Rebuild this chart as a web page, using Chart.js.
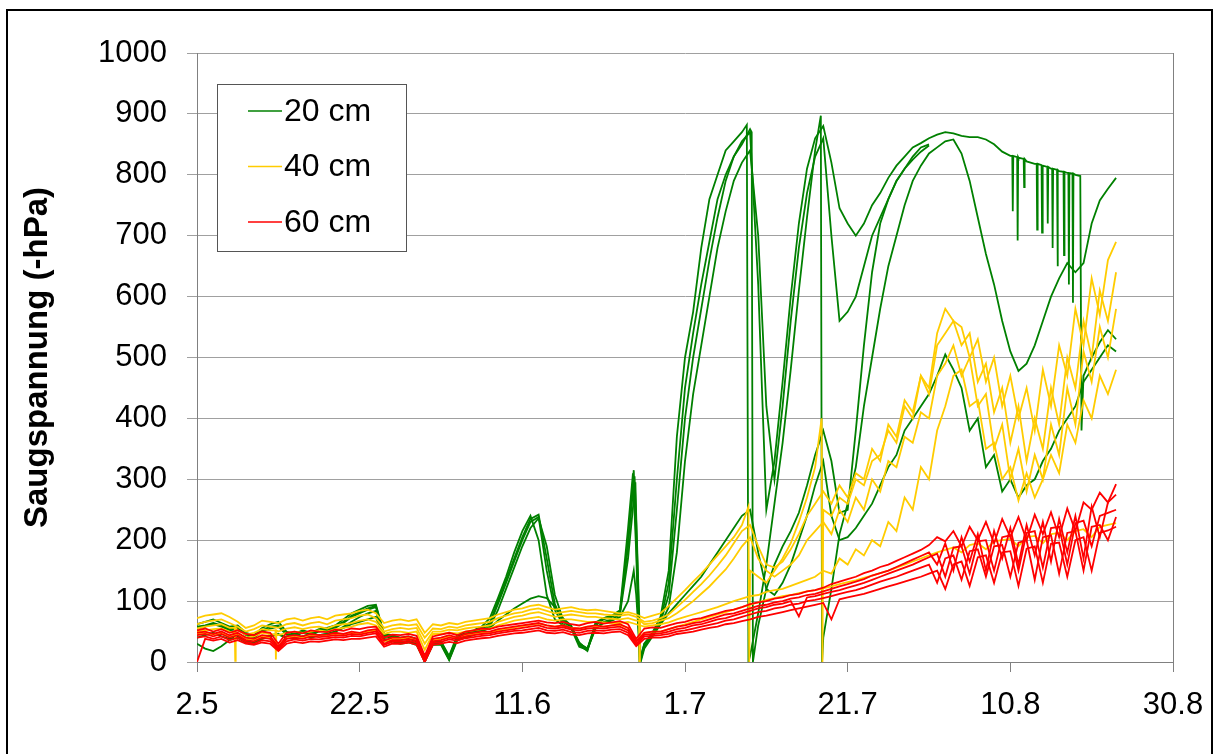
<!DOCTYPE html>
<html>
<head>
<meta charset="utf-8">
<script src="https://cdn.jsdelivr.net/npm/chart.js@4/dist/chart.umd.min.js"></script>
<style>
  body { margin: 0; background: #fff; }
  #wrap { width: 1219px; height: 754px; }
</style>
</head>
<body>
<div id="wrap"><canvas id="chart" width="1219" height="754"></canvas></div>
<script>
// tick labels for x = 0, 20, 40 ... 120 (days since 2.5.)
const dateLabels = ['2.5', '22.5', '11.6', '1.7', '21.7', '10.8', '30.8'];
const depthNames = ['20 cm', '40 cm', '60 cm'];
const depthColors = ['#008000', '#ffcc00', '#ff0000'];

// daily values (index = day), extra points [day, value], spikes [day, base, low]
// --- 20 cm ---
const g1 = [62,66,70,64,58,60,48,44,56,62, 66,50,46,52,48,54,56,60,70,80,
  86,92,94,46,44,40,42,38,4,36, 34,10,44,48,52,58,72,105,140,180,
  215,240,200,110,70,60,55,25,20,65, 72,76,85,220,180,30,48,75,150,370,
  500,575,680,760,800,840,855,870,10,80, 160,260,360,480,610,730,840,40,120,210,
  260,320,420,500,580,650,700,750,790,815, 835,845,855,858,835,790,730,670,620,560,
  510,478,490,520,560,600,630,655,640,655, 720,758,777,795];
const g1Extra = [[53.6,310],[54.4,0],[67.6,882],[67.8,0],[76.7,897],[76.85,0]];

const g2 = [55,58,62,58,52,54,44,40,50,55, 58,45,42,48,44,50,52,56,64,74,
  80,86,90,42,40,36,38,34,2,33, 32,6,40,44,48,54,62,95,130,165,
  200,230,238,150,85,62,56,30,22,60, 70,74,80,200,230,28,45,68,130,300,
  450,540,620,690,760,800,830,850,875,60, 120,160,190,215,245,290,340,380,330,245,
  250,380,520,640,720,760,790,810,825,838, 848];
const g2Extra = [[53.8,305],[54.5,0],[68.2,870],[68.35,0]];

const g3 = [58,60,64,60,54,56,46,42,52,58, 60,47,44,50,46,52,54,58,66,76,
  82,88,92,44,42,38,40,36,3,34, 33,8,42,46,50,56,64,100,135,170,
  205,235,242,170,95,66,58,28,18,62, 72,75,82,190,200,25,46,66,110,250,
  400,500,580,660,730,790,830,855,870,620, 250,330,460,600,720,810,860,880,820,745,
  720,700,720,750,770,795,815,830,845,852, 860,866,870,868,864,862,862,858,850,838,
  831,828,822,818,815,810,806,803,800,470, 500,525,545,530];
const g3Extra = [[53.7,315],[54.45,0],[108.6,798],[108.75,380]];
const g3Spikes = [[100.3,831,740],[100.9,829,692],[101.7,826,780],[103.3,818,710],[103.9,816,705],
  [104.6,813,720],[105.2,810,680],[105.8,808,650],[106.6,805,668],[107.2,803,620],[107.7,802,590]];

const g4 = [30,22,18,26,36,40,32,30,38,42, 45,40,38,42,40,44,46,50,58,66,
  74,80,84,38,36,32,34,30,0,30, 30,4,38,42,46,52,58,85,120,155,
  190,220,236,190,110,70,58,32,20,55, 66,70,78,170,240,22,42,62,90,180,
  330,440,520,600,680,740,790,820,840,700, 420,300,420,560,680,770,830,860,700,560,
  575,600,650,700,730,760,790,810,830,845, 850];
const g4Extra = [[53.9,295],[54.55,0]];

const g5 = [40,44,48,42,38,42,34,32,40,44, 46,40,38,42,40,44,46,50,56,62,
  66,70,74,36,34,30,32,28,1,28, 28,3,36,40,44,50,56,68,78,88,
  96,104,108,105,90,72,60,30,22,55, 64,68,74,100,110,30,45,62,80,95,
  110,125,140,160,180,200,220,240,250,180, 120,110,130,160,200,240,290,330,240,200,
  205,220,240,260,290,320,340,380,400,420, 440,470,505,480,450,380,400,320,340,280,
  300,270,290,300,330,350,380,400,420,460, 480,500,520,510];
const g5Extra = [[53.7,150],[54.5,5]];

// --- 40 cm ---
const y1 = [72,76,78,80,74,66,56,60,68,66, 64,70,72,68,72,74,70,76,78,80,
  84,86,80,64,68,70,67,70,48,62, 60,64,62,66,68,70,72,78,82,86,
  88,92,94,90,86,88,90,87,85,86, 84,82,80,82,78,72,76,80,92,105,
  118,132,145,160,175,190,205,225,150,140, 130,150,170,195,230,270,320,250,240,270,
  260,300,290,330,340,380,360,420,400,470, 450,540,580,560,550,500,530,460,500,420,
  470,400,450,380,480,420,520,470,580,520, 630,570,660,690];
const y1Extra = [[67.8,255],[67.9,0],[76.8,400],[76.9,0]];

const y2 = [62,66,68,70,64,58,50,54,60,58, 56,62,64,60,64,66,62,68,70,72,
  76,78,72,56,60,62,60,62,40,55, 54,58,56,60,62,64,66,72,76,80,
  82,86,88,84,80,82,84,82,80,80, 78,77,76,78,74,66,68,72,78,90,
  102,115,128,142,158,175,195,215,225,190, 160,155,165,185,210,240,260,280,260,290,
  270,310,300,350,330,390,370,430,410,470, 440,520,540,560,520,540,460,490,410,450,
  360,420,330,400,350,450,390,500,450,560, 500,610,560,640];

const y3 = [55,58,60,62,56,52,45,48,54,52, 50,55,57,54,57,58,55,60,62,64,
  68,70,66,50,54,56,54,56,30,50, 50,53,52,55,57,58,60,66,70,74,
  76,80,82,78,74,76,78,76,74,74, 72,71,70,72,68,62,64,68,72,80,
  90,100,112,124,138,152,170,190,205,170, 150,140,150,160,175,200,215,230,210,250,
  230,270,250,300,280,330,320,370,360,410, 400,470,490,520,470,500,420,440,350,390,
  300,350,280,340,300,390,340,450,390,510, 460,550,500,580];
const y3Spikes = [[4.7,56,2],[9.7,52,4],[54.4,68,0]];

const y4 = [50,52,54,55,50,46,40,42,48,46, 44,48,50,48,50,52,50,54,56,58,
  62,64,60,46,50,50,48,50,20,46, 46,48,47,50,52,54,55,60,64,68,
  70,72,74,70,68,70,70,68,66,66, 65,64,64,66,62,58,60,62,65,70,
  74,78,82,86,90,95,100,104,108,110, 115,118,120,125,130,135,140,150,145,170,
  160,185,175,200,190,230,215,270,250,320, 300,380,420,470,480,420,430,350,360,300,
  320,265,310,270,300,340,310,390,360,430, 400,470,440,480];

const y5 = [46,48,45,48,42,46,38,36,42,40, 26,40,42,40,44,43,44,46,45,48,
  47,50,52,34,38,38,40,37,6,36, 38,42,40,44,46,48,49,52,54,57,
  59,61,63,60,58,60,56,55,58,59, 58,60,61,56,34,48,50,50,54,58,
  62,66,70,74,78,82,86,90,94,98, 102,105,108,110,113,116,118,121,124,128,
  131,134,138,142,146,150,155,160,165,170, 175,180,184,188,180,192,195,185,198,200,
  202,190,205,207,195,210,212,200,215,218, 205,222,225,228];

// --- 60 cm ---
const r1 = [52,55,50,54,48,52,46,44,50,48, 30,48,50,47,52,50,49,53,51,55,
  54,57,58,40,45,44,46,43,10,42, 45,48,44,50,52,55,54,58,60,62,
  64,66,68,65,64,66,62,60,64,66, 63,65,67,62,38,55,57,56,60,64,
  66,70,72,76,80,84,86,90,95,98, 100,104,106,110,112,116,118,122,128,132,
  136,140,146,150,156,160,166,172,178,184, 192,205,198,215,190,222,200,230,195,235,
  205,238,200,242,210,246,205,252,215,262, 250,278,262,292];

const r2 = [48,50,46,50,44,48,40,38,44,42, 25,42,44,42,46,44,45,48,46,50,
  48,52,54,35,40,40,42,38,4,38, 40,44,40,46,48,50,50,54,56,58,
  60,62,64,60,58,60,56,55,58,60, 58,60,62,56,34,48,50,50,54,58,
  60,64,66,70,74,78,80,84,88,92, 94,98,100,104,106,110,112,116,120,124,
  128,132,136,142,146,150,156,162,168,174, 180,160,195,150,205,165,210,150,215,170,
  220,160,225,175,230,165,235,180,240,170, 255,205,262,275];

const r3 = [44,46,42,46,40,44,36,34,40,38, 22,38,40,38,42,41,42,44,43,46,
  45,48,50,30,36,36,38,35,2,34, 36,40,38,42,44,46,47,50,52,54,
  56,58,60,56,55,57,53,52,55,56, 55,57,58,52,30,45,46,47,50,54,
  56,60,62,66,70,72,76,80,84,88, 90,94,96,100,75,106,108,112,115,118,
  122,126,130,135,140,145,150,155,160,166, 172,178,140,188,190,145,198,200,150,205,
  208,150,212,215,155,220,222,160,228,232, 190,240,245,250];

const r4 = [40,42,38,42,36,40,33,30,36,34, 20,34,37,35,38,37,39,41,40,43,
  42,45,47,28,33,33,35,32,0,31, 33,37,35,39,41,43,44,47,49,51,
  52,54,56,52,51,53,49,48,51,52, 51,53,54,48,28,42,43,44,46,50,
  52,55,58,61,64,68,70,74,78,82, 84,88,90,94,96,100,102,105,108,112,
  115,118,122,127,132,136,140,145,150,155, 160,130,170,175,135,182,185,140,190,192,
  140,196,200,135,205,208,145,212,215,150, 222,225,200,238];

const r5 = [0,38,35,38,32,36,30,28,32,30, 18,30,33,31,34,33,35,37,36,38,
  38,40,42,25,30,30,32,28,0,28, 30,33,31,35,37,39,40,43,45,47,
  48,50,52,48,47,49,45,44,47,48, 47,49,50,44,26,38,40,40,42,46,
  48,50,53,56,58,62,64,67,70,74, 76,79,82,85,88,91,94,97,70,103,
  106,109,112,116,120,124,128,132,136,140, 145,150,120,160,165,125,172,175,130,180,
  182,125,186,190,130,194,196,140,200,205, 150,212,216,222];

function buildPoints(vals, extra, spikes) {
  const pts = vals.map((v, i) => ({ x: i, y: v }));
  (extra || []).forEach(([x, y]) => pts.push({ x: x, y: y }));
  (spikes || []).forEach(([x, base, low]) => {
    pts.push({ x: x - 0.06, y: base }, { x: x, y: low }, { x: x + 0.06, y: base });
  });
  return pts.sort((a, b) => a.x - b.x);
}

function line(depth, pts) {
  return {
    label: depthNames[depth],
    data: pts,
    borderColor: depthColors[depth],
    borderWidth: 1.8,
    pointRadius: 0,
    tension: 0,
    fill: false,
    order: 2 - depth
  };
}

const datasets = [
  line(0, buildPoints(g1, g1Extra)),
  line(0, buildPoints(g2, g2Extra)),
  line(0, buildPoints(g3, g3Extra, g3Spikes)),
  line(0, buildPoints(g4, g4Extra)),
  line(0, buildPoints(g5, g5Extra)),
  line(1, buildPoints(y1, y1Extra)),
  line(1, buildPoints(y2)),
  line(1, buildPoints(y3, null, y3Spikes)),
  line(1, buildPoints(y4)),
  line(1, buildPoints(y5)),
  line(2, buildPoints(r1)),
  line(2, buildPoints(r2)),
  line(2, buildPoints(r3)),
  line(2, buildPoints(r4)),
  line(2, buildPoints(r5))
];

const frame = {
  id: 'frame',
  beforeDraw(chart) {
    const ctx = chart.ctx;
    ctx.save();
    ctx.fillStyle = '#fff';
    ctx.fillRect(0, 0, chart.width, chart.height);
    ctx.strokeStyle = '#000';
    ctx.lineWidth = 2;
    ctx.strokeRect(7, 10, 1205, 770);
    ctx.restore();
  },
  afterDraw(chart) {
    const ctx = chart.ctx;
    const a = chart.chartArea;
    ctx.save();
    // right border of the plot area
    ctx.strokeStyle = '#808080';
    ctx.lineWidth = 1;
    ctx.beginPath();
    ctx.moveTo(Math.round(a.right) + 0.5, a.top);
    ctx.lineTo(Math.round(a.right) + 0.5, a.bottom);
    ctx.stroke();
    // legend box
    ctx.fillStyle = '#fff';
    ctx.fillRect(217.5, 84.5, 189, 167);
    ctx.strokeStyle = '#555';
    ctx.strokeRect(217.5, 84.5, 189, 167);
    ctx.font = "32px 'Liberation Sans', Arial, sans-serif";
    ctx.textBaseline = 'middle';
    depthNames.forEach((name, i) => {
      const y = 111 + i * 55.5;
      ctx.strokeStyle = depthColors[i];
      ctx.lineWidth = 1.5;
      ctx.beginPath();
      ctx.moveTo(248, y);
      ctx.lineTo(282, y);
      ctx.stroke();
      ctx.fillStyle = '#000';
      ctx.fillText(name, 284, y + 1);
    });
    ctx.restore();
  }
};

Chart.defaults.font.family = "'Liberation Sans', Arial, sans-serif";
Chart.defaults.color = '#000';

new Chart(document.getElementById('chart').getContext('2d'), {
  type: 'line',
  data: { datasets: datasets },
  options: {
    responsive: false,
    animation: false,
    devicePixelRatio: 1,
    layout: { padding: { left: 0, right: 46, top: 53, bottom: 0 } },
    plugins: { legend: { display: false }, tooltip: { enabled: false } },
    scales: {
      x: {
        type: 'linear',
        min: 0,
        max: 120,
        afterFit: s => { s.height = 92; },
        ticks: {
          stepSize: 20,
          font: { size: 31 },
          padding: 15,
          maxRotation: 0,
          callback: v => dateLabels[v / 20]
        },
        grid: { drawOnChartArea: false, drawTicks: true, tickLength: 10, color: '#808080' },
        border: { color: '#808080' }
      },
      y: {
        min: 0,
        max: 1000,
        afterFit: s => { s.width = 197; },
        ticks: { stepSize: 100, font: { size: 31 }, padding: 20, callback: v => String(v) },
        grid: { color: '#a0a0a0', tickLength: 10 },
        border: { color: '#808080' },
        title: {
          display: true,
          text: 'Saugspannung (-hPa)',
          font: { size: 33, weight: 'bold' },
          padding: { top: 18, bottom: 0 }
        }
      }
    }
  },
  plugins: [frame]
});
</script>
</body>
</html>
